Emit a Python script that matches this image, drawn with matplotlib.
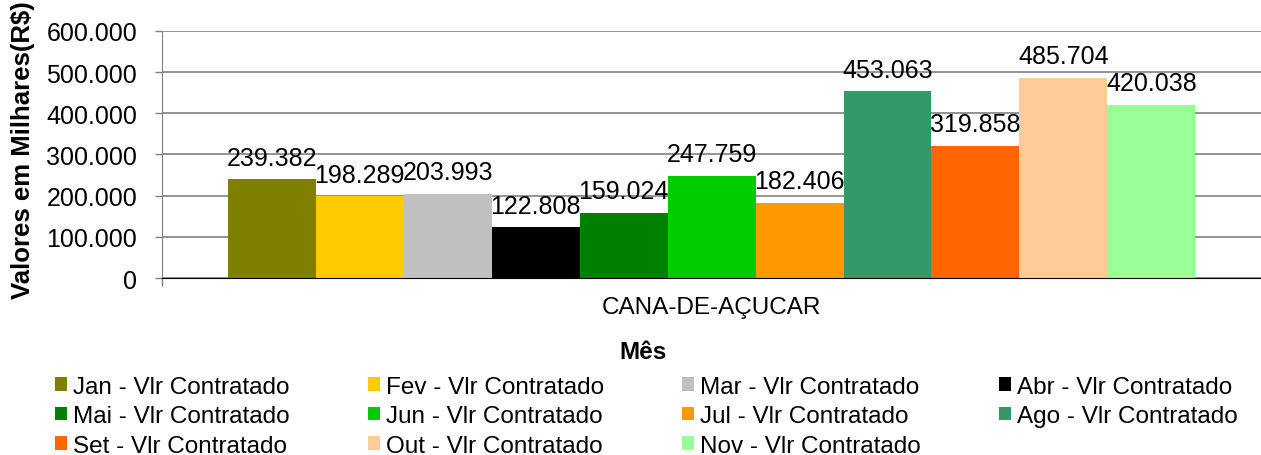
import matplotlib
matplotlib.use('Agg')
import matplotlib.pyplot as plt
from matplotlib.ticker import FuncFormatter

plt.rcParams['font.family'] = ['Liberation Sans', 'DejaVu Sans']

categoria = 'CANA-DE-AÇUCAR'
meses = ['Jan', 'Fev', 'Mar', 'Abr', 'Mai', 'Jun', 'Jul', 'Ago', 'Set', 'Out', 'Nov']
valores = [239382, 198289, 203993, 122808, 159024, 247759, 182406, 453063, 319858, 485704, 420038]
cores = ['#808000', '#FFCC00', '#C0C0C0', '#000000', '#008000', '#00CC00',
         '#FF9900', '#339966', '#FF6600', '#FFCC99', '#99FF99']
yticks = [0, 100000, 200000, 300000, 400000, 500000, 600000]


def milhar(v, pos=None):
    return f'{int(v):,}'.replace(',', '.')


fig = plt.figure(figsize=(12.61, 4.56), dpi=100)
ax = fig.add_axes([0.1285, 0.388, 0.8715, 0.542])

n = len(valores)
barras = []
for i, (mes, v, c) in enumerate(zip(meses, valores, cores)):
    x = i - (n - 1) / 2
    b = ax.bar(x, v, width=1.0, color=c, label=f'{mes} - Vlr Contratado', zorder=2)
    barras.append(b)
    ax.text(x, v + 24000, milhar(v), ha='center', va='bottom', fontsize=18, zorder=3)

ax.set_xlim(-6.245, 6.245)
ax.set_ylim(0, 600000)
ax.set_yticks(yticks)
ax.yaxis.set_major_formatter(FuncFormatter(milhar))
ax.set_xticks([0])
ax.set_xticklabels([categoria])
ax.set_xticks([-6.245], minor=True)
ax.tick_params(axis='x', which='major', length=0, labelsize=17.5, pad=13)
ax.tick_params(axis='x', which='minor', length=6, width=1, color='#808080')
ax.tick_params(axis='y', length=5, width=1, color='#808080', labelsize=18, pad=13)
ax.grid(axis='y', color='#808080', linewidth=1.2, zorder=0)

for s in ['top', 'right']:
    ax.spines[s].set_visible(False)
ax.spines['left'].set_color('#808080')
ax.spines['bottom'].set_color('#000000')

fig.text(0.018, 0.67, 'Valores em Milhares(R$)', rotation=90, ha='center', va='center',
         fontsize=18.5, fontweight='bold')
fig.text(0.51, 0.226, 'Mês', ha='center', va='center', fontsize=17.5, fontweight='bold')

# legenda preenchida por linhas (matplotlib preenche por colunas)
ordem = [0, 4, 8, 1, 5, 9, 2, 6, 10, 3, 7]
handles = [barras[k] for k in ordem]
labels = [f'{meses[k]} - Vlr Contratado' for k in ordem]
fig.legend(handles, labels, loc='upper left', bbox_to_anchor=(0.0436, 0.174), ncol=4,
           frameon=False, fontsize=17.5, handlelength=0.5, handleheight=0.5,
           handletextpad=0.25, columnspacing=3.2, labelspacing=0.31,
           borderpad=0, borderaxespad=0)

fig.savefig('out.png', dpi=100)
